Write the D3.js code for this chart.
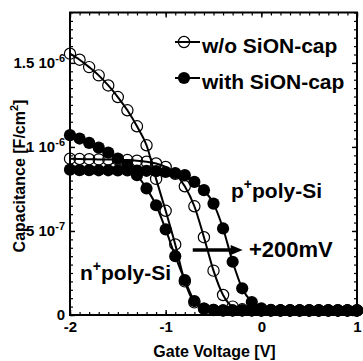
<!DOCTYPE html>
<html>
<head>
<meta charset="utf-8">
<script src="https://cdn.jsdelivr.net/npm/d3@7"></script>
<style>
  html, body { margin: 0; padding: 0; background: #fff; }
  svg { display: block; }
  text { font-family: "Liberation Sans", Arial, Helvetica, sans-serif; font-weight: bold; fill: #000; }
</style>
</head>
<body>
<svg id="chart" width="363" height="361"></svg>
<script>
// Gate voltage sweep [V]
const gateVoltage = [-2.0, -1.9, -1.8, -1.7, -1.6, -1.5, -1.4, -1.3, -1.2, -1.1, -1.0,
                     -0.9, -0.8, -0.7, -0.6, -0.5, -0.4, -0.3, -0.2, -0.1, 0.0,
                      0.1, 0.2, 0.3, 0.4, 0.5, 0.6, 0.7, 0.8, 0.9, 1.0];

// Capacitance [F/cm^2], n+ poly-Si gate
const nPolyNoCap = [15.55e-7, 15.19e-7, 14.75e-7, 14.26e-7, 13.66e-7, 12.97e-7, 12.18e-7, 11.23e-7, 10.10e-7, 8.10e-7, 6.20e-7,
                    4.20e-7, 2.00e-7, 0.75e-7, 0.38e-7, 0.30e-7, 0.27e-7, 0.27e-7, 0.27e-7, 0.27e-7, 0.27e-7,
                    0.27e-7, 0.27e-7, 0.27e-7, 0.27e-7, 0.27e-7, 0.27e-7, 0.27e-7, 0.27e-7, 0.27e-7, 0.27e-7];
const nPolyWithCap = [10.70e-7, 10.50e-7, 10.24e-7, 9.96e-7, 9.66e-7, 9.31e-7, 8.91e-7, 8.32e-7, 7.53e-7, 6.53e-7, 5.09e-7,
                      3.50e-7, 2.08e-7, 0.83e-7, 0.38e-7, 0.30e-7, 0.27e-7, 0.27e-7, 0.27e-7, 0.27e-7, 0.27e-7,
                      0.27e-7, 0.27e-7, 0.27e-7, 0.27e-7, 0.27e-7, 0.27e-7, 0.27e-7, 0.27e-7, 0.27e-7, 0.27e-7];

// Capacitance [F/cm^2], p+ poly-Si gate
const pPolyNoCap = [9.30e-7, 9.28e-7, 9.27e-7, 9.26e-7, 9.25e-7, 9.24e-7, 9.22e-7, 9.18e-7, 9.12e-7, 9.02e-7, 8.81e-7,
                    8.40e-7, 7.66e-7, 6.47e-7, 4.63e-7, 2.64e-7, 1.19e-7, 0.50e-7, 0.34e-7, 0.30e-7, 0.27e-7,
                    0.27e-7, 0.27e-7, 0.27e-7, 0.27e-7, 0.27e-7, 0.27e-7, 0.27e-7, 0.27e-7, 0.27e-7, 0.27e-7];
const pPolyWithCap = [8.65e-7, 8.62e-7, 8.62e-7, 8.61e-7, 8.61e-7, 8.60e-7, 8.60e-7, 8.59e-7, 8.58e-7, 8.56e-7, 8.51e-7,
                      8.45e-7, 8.32e-7, 7.92e-7, 7.43e-7, 6.63e-7, 5.15e-7, 3.17e-7, 1.59e-7, 0.77e-7, 0.40e-7,
                      0.30e-7, 0.27e-7, 0.27e-7, 0.27e-7, 0.27e-7, 0.27e-7, 0.27e-7, 0.27e-7, 0.27e-7, 0.27e-7];

// Axis ticks
const xMajorTicks = [-2, -1, 0, 1];
const xTickLabels = ["-2", "-1", "0", "1"];
const yMajorTicks = [0, 5e-7, 1e-6, 1.5e-6];
const yTickMantissa = ["0", "5 10", "1 10", "1.5 10"];
const yTickExponent = ["", "-7", "-6", "-6"];

const legendLabels = ["w/o SiON-cap", "with SiON-cap"];

// ---------------------------------------------------------------
const svg = d3.select("#chart");
const plot = { left: 70, right: 357, top: 12.5, bottom: 315 };

const x = d3.scaleLinear().domain([-2, 1]).range([plot.left, plot.right]);
const y = d3.scaleLinear().domain([0, 1.8e-6]).range([plot.bottom, plot.top]);

const xMinor = d3.range(-20, 11).map(i => i / 10);
const yMinor = d3.range(0, 37).map(i => i * 5e-8);

const openR = 5.6, filledR = 6.1;

// Minor ticks (inward on all four sides)
function minorAxis(axisFn, scale, values, transform) {
  svg.append("g")
    .attr("transform", transform)
    .call(axisFn(scale).tickValues(values).tickSize(-3).tickFormat(""))
    .call(g => g.select(".domain").remove())
    .call(g => g.selectAll("line").attr("stroke-width", 1.2));
}
minorAxis(d3.axisBottom, x, xMinor, `translate(0,${plot.bottom})`);
minorAxis(d3.axisTop, x, xMinor, `translate(0,${plot.top})`);
minorAxis(d3.axisLeft, y, yMinor, `translate(${plot.left},0)`);
minorAxis(d3.axisRight, y, yMinor, `translate(${plot.right},0)`);

// Major ticks
const xAxis = svg.append("g")
  .attr("transform", `translate(0,${plot.bottom})`)
  .call(d3.axisBottom(x).tickValues(xMajorTicks).tickSize(-5).tickPadding(6)
        .tickFormat((d, i) => xTickLabels[i]));
xAxis.select(".domain").remove();
xAxis.selectAll("line").attr("stroke-width", 1.4);
xAxis.selectAll("text").attr("font-size", 15);

svg.append("g")
  .attr("transform", `translate(0,${plot.top})`)
  .call(d3.axisTop(x).tickValues(xMajorTicks).tickSize(-5).tickFormat(""))
  .call(g => g.select(".domain").remove())
  .call(g => g.selectAll("line").attr("stroke-width", 1.4));

const yAxis = svg.append("g")
  .attr("transform", `translate(${plot.left},0)`)
  .call(d3.axisLeft(y).tickValues(yMajorTicks).tickSize(-5).tickPadding(5).tickFormat(""));
yAxis.select(".domain").remove();
yAxis.selectAll("line").attr("stroke-width", 1.4);
yAxis.selectAll(".tick text").each(function (d, i) {
  const t = d3.select(this).attr("font-size", 15);
  t.append("tspan").text(yTickMantissa[i]);
  if (yTickExponent[i]) {
    t.append("tspan").attr("font-size", 11).attr("dy", "-0.55em").text(yTickExponent[i]);
  }
});

svg.append("g")
  .attr("transform", `translate(${plot.right},0)`)
  .call(d3.axisRight(y).tickValues(yMajorTicks).tickSize(-5).tickFormat(""))
  .call(g => g.select(".domain").remove())
  .call(g => g.selectAll("line").attr("stroke-width", 1.4));

// Frame
svg.append("rect")
  .attr("x", plot.left).attr("y", plot.top)
  .attr("width", plot.right - plot.left).attr("height", plot.bottom - plot.top)
  .attr("fill", "none").attr("stroke", "#000").attr("stroke-width", 2);

// Axis titles
svg.append("text")
  .attr("x", (plot.left + plot.right) / 2 + 1).attr("y", 357)
  .attr("text-anchor", "middle").attr("font-size", 16)
  .text("Gate Voltage [V]");

const yTitle = svg.append("text")
  .attr("transform", "translate(25,176) rotate(-90)")
  .attr("text-anchor", "middle").attr("font-size", 16);
yTitle.append("tspan").text("Capacitance [F/cm");
yTitle.append("tspan").attr("font-size", 11).attr("dy", "-0.6em").text("2");
yTitle.append("tspan").attr("dy", "0.4em").text("]");

// Curves
const line = d3.line()
  .x(d => x(d[0])).y(d => y(d[1]))
  .curve(d3.curveMonotoneX);

const series = [
  { values: nPolyNoCap, filled: false },
  { values: pPolyNoCap, filled: false },
  { values: nPolyWithCap, filled: true },
  { values: pPolyWithCap, filled: true }
];

const curves = svg.append("g");
series.forEach(s => {
  const pts = gateVoltage.map((v, i) => [v, s.values[i]]);
  const g = curves.append("g");
  g.append("path")
    .attr("d", line(pts))
    .attr("fill", "none").attr("stroke", "#000").attr("stroke-width", 2);
  g.selectAll("circle").data(pts).join("circle")
    .attr("cx", d => x(d[0])).attr("cy", d => y(d[1]))
    .attr("r", s.filled ? filledR : openR)
    .attr("fill", s.filled ? "#000" : "none")
    .attr("stroke", "#000").attr("stroke-width", s.filled ? 0 : 1.2);
});

// Legend
const legend = svg.append("g");
legendLabels.forEach((label, i) => {
  const ly = 42 + i * 36;
  legend.append("line")
    .attr("x1", 175).attr("x2", 200).attr("y1", ly).attr("y2", ly)
    .attr("stroke", "#000").attr("stroke-width", 2);
  legend.append("circle")
    .attr("cx", 184).attr("cy", ly)
    .attr("r", i === 0 ? openR : filledR)
    .attr("fill", i === 0 ? "none" : "#000")
    .attr("stroke", "#000").attr("stroke-width", i === 0 ? 1.2 : 0);
  legend.append("text")
    .attr("x", 202).attr("y", ly + 11)
    .attr("font-size", 21)
    .text(label);
});

// Gate-material labels
function polyLabel(letter, v, c) {
  const t = svg.append("text").attr("x", x(v)).attr("y", y(c)).attr("font-size", 21);
  t.append("tspan").text(letter);
  t.append("tspan").attr("font-size", 14).attr("dy", "-0.65em").text("+");
  t.append("tspan").attr("dy", "0.43em").text("poly-Si");
}
polyLabel("p", -0.317, 6.96e-7);
polyLabel("n", -1.895, 2.08e-7);

// Flat-band shift arrow
const arrowC = 3.87e-7;
const arrowFrom = -0.717, arrowTo = -0.195;
svg.append("line")
  .attr("x1", x(arrowFrom)).attr("x2", x(arrowTo) - 10)
  .attr("y1", y(arrowC)).attr("y2", y(arrowC))
  .attr("stroke", "#000").attr("stroke-width", 3.5);
svg.append("path")
  .attr("d", `M${x(arrowTo)},${y(arrowC)} L${x(arrowTo) - 12},${y(arrowC) - 5} L${x(arrowTo) - 12},${y(arrowC) + 5} Z`)
  .attr("fill", "#000");
svg.append("text")
  .attr("x", x(-0.129)).attr("y", y(3.45e-7))
  .attr("font-size", 22)
  .text("+200mV");
</script>
</body>
</html>
